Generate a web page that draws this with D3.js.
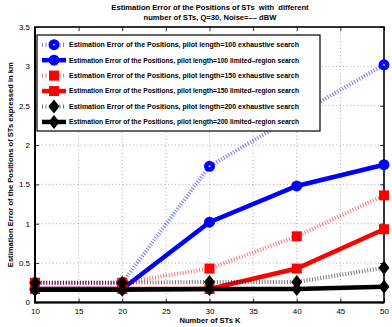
<!DOCTYPE html>
<html lang="en">
<head>
<meta charset="UTF-8">
<title>Estimation Error chart</title>
<script src="https://d3js.org/d3.v7.min.js"></script>
<style>
  body { margin: 0; padding: 0; background: #fff; }
  svg { display: block; font-family: 'Liberation Sans', Arial, sans-serif; }
</style>
</head>
<body>
<svg width="392" height="327"></svg>
<script>
const numSTs = [10, 20, 30, 40, 50];
const xTicks = [10, 15, 20, 25, 30, 35, 40, 45, 50];
const yTicks = [0, 0.5, 1, 1.5, 2, 2.5, 3, 3.5];

const pilot100Exh = [0.25, 0.25, 1.73, 2.38, 3.02];
const pilot100Lim = [0.17, 0.17, 1.02, 1.48, 1.75];
const pilot150Exh = [0.25, 0.25, 0.43, 0.84, 1.36];
const pilot150Lim = [0.17, 0.17, 0.17, 0.43, 0.93];
const pilot200Exh = [0.25, 0.25, 0.26, 0.26, 0.44];
const pilot200Lim = [0.16, 0.16, 0.17, 0.17, 0.2];

const seriesNames = [
  "Estimation Error of the Positions, pilot length=100 exhaustive search",
  "Estimation Error of the Positions, pilot length=100 limited\u2013region search",
  "Estimation Error of the Positions, pilot length=150 exhaustive search",
  "Estimation Error of the Positions, pilot length=150 limited\u2013region search",
  "Estimation Error of the Positions, pilot length=200 exhaustive search",
  "Estimation Error of the Positions, pilot length=200 limited\u2013region search"
];

const series = [
  { values: pilot100Exh, color: "#0000ff", dotted: true,  marker: "circle" },
  { values: pilot100Lim, color: "#0000ff", dotted: false, marker: "circle" },
  { values: pilot150Exh, color: "#ff0000", dotted: true,  marker: "square" },
  { values: pilot150Lim, color: "#ff0000", dotted: false, marker: "square" },
  { values: pilot200Exh, color: "#000000", dotted: true,  marker: "diamond" },
  { values: pilot200Lim, color: "#000000", dotted: false, marker: "diamond" }
];

const svg = d3.select("svg");
const pLeft = 35, pRight = 384, pTop = 27, pBottom = 302.4;

const x = d3.scaleLinear().domain([10, 50]).range([pLeft, pRight]);
const y = d3.scaleLinear().domain([0, 3.5]).range([pBottom, pTop]);

// grid
svg.append("g").selectAll("line")
  .data(xTicks.slice(1, -1))
  .enter().append("line")
  .attr("x1", d => x(d)).attr("x2", d => x(d))
  .attr("y1", pTop).attr("y2", pBottom)
  .attr("stroke", "#999").attr("stroke-width", 0.8)
  .attr("stroke-dasharray", "1,2.5");
svg.append("g").selectAll("line")
  .data(yTicks.slice(1, -1))
  .enter().append("line")
  .attr("x1", pLeft).attr("x2", pRight)
  .attr("y1", d => y(d)).attr("y2", d => y(d))
  .attr("stroke", "#999").attr("stroke-width", 0.8)
  .attr("stroke-dasharray", "1,2.5");

// axes
const xAxis = d3.axisBottom(x).tickValues(xTicks).tickSize(-4).tickPadding(6).tickFormat(d3.format("d"));
const yAxis = d3.axisLeft(y).tickValues(yTicks).tickSize(-4).tickPadding(5).tickFormat(d => d);
svg.append("g").attr("transform", `translate(0,${pBottom})`).call(xAxis);
svg.append("g").attr("transform", `translate(${pLeft},0)`).call(yAxis);
// top and right tick marks
svg.append("g").attr("transform", `translate(0,${pTop})`)
  .call(d3.axisTop(x).tickValues(xTicks).tickSize(-4).tickFormat(""));
svg.append("g").attr("transform", `translate(${pRight},0)`)
  .call(d3.axisRight(y).tickValues(yTicks).tickSize(-4).tickFormat(""));
svg.selectAll(".domain").remove();
svg.selectAll(".tick line").attr("stroke", "#000").attr("stroke-width", 0.8);
svg.selectAll(".tick text").attr("font-size", 8).attr("fill", "#000")
  .attr("font-family", "'Liberation Sans', Arial, sans-serif");

svg.append("rect")
  .attr("x", pLeft).attr("y", pTop)
  .attr("width", pRight - pLeft).attr("height", pBottom - pTop)
  .attr("fill", "none").attr("stroke", "#000").attr("stroke-width", 1.6);
svg.append("path")
  .attr("d", `M${pLeft},${pTop}V${pBottom}H${pRight}`)
  .attr("fill", "none").attr("stroke", "#000").attr("stroke-width", 2);

// lines
const line = d3.line().x((d, i) => x(numSTs[i])).y(d => y(d));

function drawMarker(g, type, color, cx, cy, dotted) {
  if (type === "circle") {
    g.append("circle").attr("cx", cx).attr("cy", cy).attr("r", 5.5).attr("fill", color);
    if (dotted) g.append("circle").attr("cx", cx).attr("cy", cy).attr("r", 0.9).attr("fill", "#ddd");
  } else if (type === "square") {
    g.append("rect").attr("x", cx - 5).attr("y", cy - 5).attr("width", 10).attr("height", 10).attr("fill", color);
  } else {
    g.append("path")
      .attr("d", `M${cx},${cy - 7}L${cx + 5.5},${cy}L${cx},${cy + 7}L${cx - 5.5},${cy}Z`)
      .attr("fill", color);
  }
}

series.forEach(s => {
  const g = svg.append("g");
  g.append("path")
    .datum(s.values)
    .attr("d", line)
    .attr("fill", "none")
    .attr("stroke", s.color)
    .attr("stroke-width", s.dotted ? 4 : 4.5)
    .attr("stroke-opacity", s.dotted ? 0.55 : 1)
    .attr("stroke-dasharray", s.dotted ? "1,1.8" : null);
  s.values.forEach((v, i) => drawMarker(g, s.marker, s.color, x(numSTs[i]), y(v), s.dotted));
});

// legend
const lg = svg.append("g");
lg.append("rect")
  .attr("x", 37).attr("y", 35).attr("width", 283).attr("height", 96)
  .attr("fill", "#fff").attr("stroke", "#000").attr("stroke-width", 1.2);
series.forEach((s, i) => {
  const ly = 44.7 + i * 15.45;
  lg.append("line")
    .attr("x1", 42).attr("x2", 66).attr("y1", ly).attr("y2", ly)
    .attr("stroke", s.color)
    .attr("stroke-width", s.dotted ? 4 : 4.5)
    .attr("stroke-opacity", s.dotted ? 0.55 : 1)
    .attr("stroke-dasharray", s.dotted ? "1,2.5" : null);
  drawMarker(lg, s.marker, s.color, 54, ly, s.dotted);
  lg.append("text")
    .attr("x", 69).attr("y", ly + 2.4)
    .attr("font-size", 6.6).attr("font-weight", "bold")
    .attr("textLength", 230).attr("lengthAdjust", "spacingAndGlyphs")
    .text(seriesNames[i]);
});

// titles
const title = svg.append("text").attr("text-anchor", "middle")
  .attr("font-size", 7.6).attr("font-weight", "bold")
  .style("white-space", "pre");
title.append("tspan").attr("x", 210).attr("y", 10)
  .text("Estimation Error of the Positions of STs  with  different");
title.append("tspan").attr("x", 210).attr("y", 20)
  .text("number of STs, Q=30, Noise=\u2013\u2013 dBW");

svg.append("text").attr("x", 210).attr("y", 323)
  .attr("text-anchor", "middle").attr("font-size", 7.6).attr("font-weight", "bold")
  .text("Number of STs K");

svg.append("text")
  .attr("transform", `translate(13,${(pTop + pBottom) / 2}) rotate(-90)`)
  .attr("text-anchor", "middle").attr("font-size", 7.6).attr("font-weight", "bold")
  .text("Estimation Error of the Positions of STs expressed in km");
</script>
</body>
</html>
